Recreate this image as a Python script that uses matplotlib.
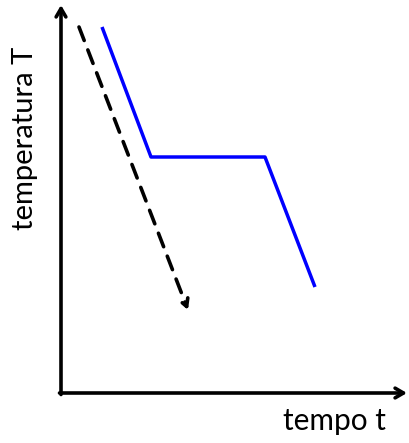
import matplotlib
matplotlib.use("Agg")
import matplotlib.pyplot as plt

# Data (time, temperature) in arbitrary units
t_cool = [41, 90, 204, 254]
T_cool = [366, 236, 236, 106]
t_dash = [18, 127]
T_dash = [366, 83]
x_label = "tempo t"
y_label = "temperatura T"

W, H = 409, 443
fig = plt.figure(figsize=(W / 100, H / 100), dpi=100)
ox, oy = 61, 393
ax = fig.add_axes([ox / W, (H - oy) / H, (W - ox) / W, oy / H])
ax.set_xlim(0, W - ox)
ax.set_ylim(0, oy)
ax.axis("off")

# axes arrows
ax.annotate("", xy=(346, 0), xytext=(-1.5, 0),
            arrowprops=dict(arrowstyle="->,head_length=0.6,head_width=0.35", lw=2.6,
                            color="black", shrinkA=0, shrinkB=0), annotation_clip=False)
ax.annotate("", xy=(0, 388), xytext=(0, -1.5),
            arrowprops=dict(arrowstyle="->,head_length=0.6,head_width=0.35", lw=2.6,
                            color="black", shrinkA=0, shrinkB=0), annotation_clip=False)

# blue cooling curve
ax.plot(t_cool, T_cool, color="#0000FF", lw=2.5, solid_capstyle="butt")

# dashed arrow
ax.annotate("", xy=(t_dash[1], T_dash[1]), xytext=(t_dash[0], T_dash[0]),
            arrowprops=dict(arrowstyle="->,head_length=0.55,head_width=0.3", lw=2.6,
                            color="black", linestyle=(0, (4.0, 2.8)),
                            shrinkA=0, shrinkB=0))

font = ["Lato", "DejaVu Sans"]
fig.text(334.5 / W, 1 - 421 / H, x_label, ha="center", va="center",
         fontsize=21.5, family=font)
fig.text(25 / W, 1 - 138 / H, y_label, ha="center", va="center",
         rotation=90, fontsize=21, family=font)

fig.savefig("out.png", dpi=100)
